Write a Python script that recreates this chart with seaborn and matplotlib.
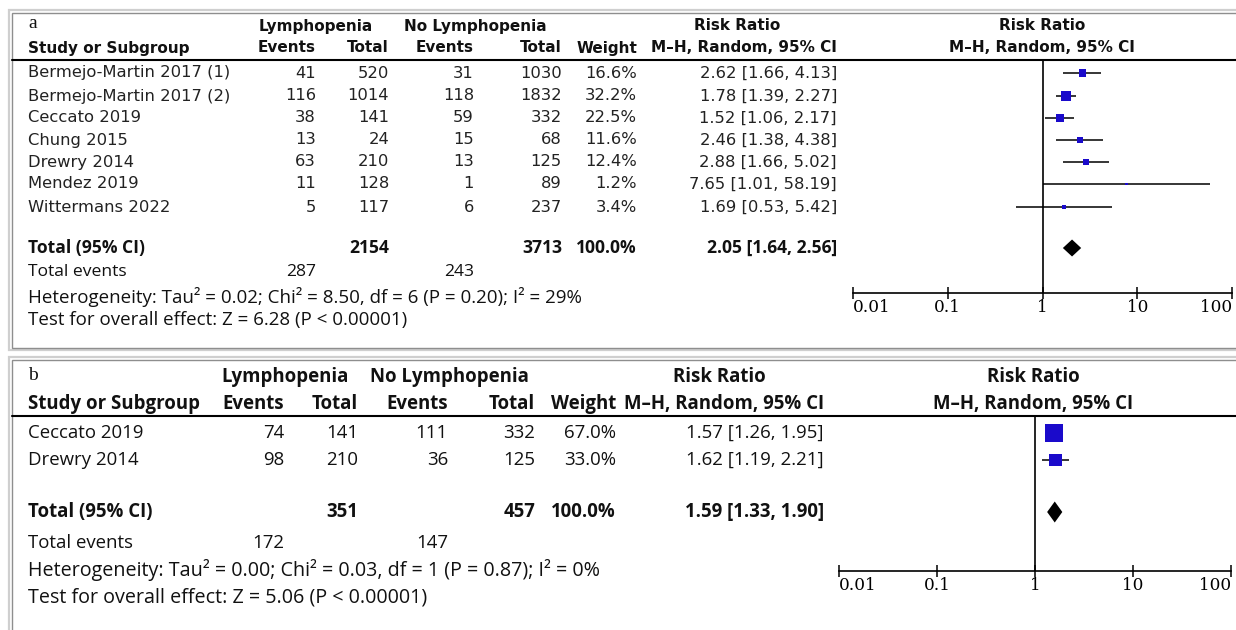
import matplotlib
matplotlib.use("Agg")
import matplotlib.pyplot as plt
import seaborn as sns
import numpy as np

# ---------------- data: panel a ----------------
studies_a = ["Bermejo-Martin 2017 (1)", "Bermejo-Martin 2017 (2)", "Ceccato 2019",
             "Chung 2015", "Drewry 2014", "Mendez 2019", "Wittermans 2022"]
lym_events_a = [41, 116, 38, 13, 63, 11, 5]
lym_total_a = [520, 1014, 141, 24, 210, 128, 117]
nolym_events_a = [31, 118, 59, 15, 13, 1, 6]
nolym_total_a = [1030, 1832, 332, 68, 125, 89, 237]
weight_a = [16.6, 32.2, 22.5, 11.6, 12.4, 1.2, 3.4]
rr_a = [2.62, 1.78, 1.52, 2.46, 2.88, 7.65, 1.69]
lo_a = [1.66, 1.39, 1.06, 1.38, 1.66, 1.01, 0.53]
hi_a = [4.13, 2.27, 2.17, 4.38, 5.02, 58.19, 5.42]
total_a = dict(lym=2154, nolym=3713, weight=100.0, rr=2.05, lo=1.64, hi=2.56,
               ev_lym=287, ev_nolym=243)
het_a = "Heterogeneity: Tau\u00b2 = 0.02; Chi\u00b2 = 8.50, df = 6 (P = 0.20); I\u00b2 = 29%"
test_a = "Test for overall effect: Z = 6.28 (P < 0.00001)"

# ---------------- data: panel b ----------------
studies_b = ["Ceccato 2019", "Drewry 2014"]
lym_events_b = [74, 98]
lym_total_b = [141, 210]
nolym_events_b = [111, 36]
nolym_total_b = [332, 125]
weight_b = [67.0, 33.0]
rr_b = [1.57, 1.62]
lo_b = [1.26, 1.19]
hi_b = [1.95, 2.21]
total_b = dict(lym=351, nolym=457, weight=100.0, rr=1.59, lo=1.33, hi=1.90,
               ev_lym=172, ev_nolym=147)
het_b = "Heterogeneity: Tau\u00b2 = 0.00; Chi\u00b2 = 0.03, df = 1 (P = 0.87); I\u00b2 = 0%"
test_b = "Test for overall effect: Z = 5.06 (P < 0.00001)"

axis_ticks = [0.01, 0.1, 1, 10, 100]
axis_labels = ["0.01", "0.1", "1", "10", "100"]

# ---------------- styling ----------------
sns.set_style("white")
plt.rcParams["font.family"] = ["DejaVu Sans"]
W, H = 1236, 630
SQ_BLUE = "#1a0acb"
LUC = "DejaVu Sans"      # table body (panel a)
MYR = "Open Sans"        # summary lines and panel b
SERIF = "Liberation Serif"
TICKF = "DejaVu Serif"

fig = plt.figure(figsize=(W / 100, H / 100), dpi=100)
bg = fig.add_axes([0, 0, 1, 1])
bg.set_xlim(0, W)
bg.set_ylim(H, 0)
bg.axis("off")


def txt(x, y, s, ha="left", size=11.8, bold=False, family=LUC, **kw):
    bg.text(x, y, s, ha=ha, va="center", fontsize=size,
            fontweight="bold" if bold else "normal", family=family,
            color=kw.pop("color", "#111111"), **kw)


def frame(top, bottom):
    # double grey border around a panel, open on the right
    bg.plot([1240, 9, 9, 1240], [top - 3, top - 3, bottom + 2, bottom + 2],
            color="#cfcfcf", lw=1.6, solid_joinstyle="miter")
    bg.plot([1240, 12, 12, 1240], [top, top, bottom, bottom],
            color="#8e8e8e", lw=1.0, solid_joinstyle="miter")


def fmt_rr(r, l, h):
    return f"{r:.2f} [{l:.2f}, {h:.2f}]"


def forest(x0, x1, y_top, y_axis, rows, rr, lo, hi, w, k, tot_row, tot, dia_h):
    ax = fig.add_axes([x0 / W, 1 - y_axis / H, (x1 - x0) / W, (y_axis - y_top) / H])
    ax.patch.set_alpha(0)
    ax.set_xscale("log")
    ax.set_xlim(0.01, 100)
    ax.set_ylim(y_axis, y_top)
    # confidence intervals
    ax.hlines(rows, lo, hi, color="black", lw=1.1, zorder=2)
    # study squares, area proportional to weight
    side_px = np.maximum(2.8, k * np.sqrt(np.array(w)))
    sizes = (side_px * 0.72) ** 2
    sns.scatterplot(x=rr, y=rows, s=sizes, marker="s", color=SQ_BLUE,
                    linewidth=0, ax=ax, zorder=3, legend=False)
    # pooled estimate diamond
    r, l, h = tot["rr"], tot["lo"], tot["hi"]
    ax.fill([l, r, h, r], [tot_row, tot_row - dia_h / 2, tot_row, tot_row + dia_h / 2],
            color="black", lw=0, zorder=3)
    # line of no effect
    ax.axvline(1, color="black", lw=1.2, zorder=1)
    for s in ["top", "right", "left"]:
        ax.spines[s].set_visible(False)
    ax.spines["bottom"].set_linewidth(1.2)
    ax.spines["bottom"].set_color("black")
    ax.set_xticks(axis_ticks)
    ax.set_xticklabels(axis_labels, family=TICKF, fontsize=12.2)
    ax.minorticks_off()
    ax.tick_params(axis="x", direction="inout", length=9, width=1.1, pad=0,
                   bottom=True, colors="black")
    labs = ax.get_xticklabels()
    labs[0].set_horizontalalignment("left")
    labs[-1].set_horizontalalignment("right")
    ax.set_yticks([])
    ax.set_xlabel("")
    ax.set_ylabel("")
    return ax


# ================= panel a =================
frame(13, 348)
cols_a = dict(ev1=316, tot1=389, ev2=474, tot2=562, wt=637, rr=837)
HA = 11.0     # bold header size
SA = 12.6     # summary line size
SN = 13.5     # statistics notes size
txt(28, 24, "a", family=SERIF, size=14)
txt(316, 26, "Lymphopenia", ha="center", bold=True, size=HA)
txt(475, 26, "No Lymphopenia", ha="center", bold=True, size=HA)
txt(737, 26, "Risk Ratio", ha="center", bold=True, size=HA)
txt(1042, 26, "Risk Ratio", ha="center", bold=True, size=HA)
y = 48
txt(28, y, "Study or Subgroup", bold=True, size=HA)
txt(cols_a["ev1"], y, "Events", ha="right", bold=True, size=HA)
txt(cols_a["tot1"], y, "Total", ha="right", bold=True, size=HA)
txt(cols_a["ev2"], y, "Events", ha="right", bold=True, size=HA)
txt(cols_a["tot2"], y, "Total", ha="right", bold=True, size=HA)
txt(cols_a["wt"], y, "Weight", ha="right", bold=True, size=HA)
txt(cols_a["rr"], y, "M\u2013H, Random, 95% CI", ha="right", bold=True, size=HA)
txt(1042, y, "M\u2013H, Random, 95% CI", ha="center", bold=True, size=HA)
bg.plot([12, 1240], [60, 60], color="black", lw=1.5)

rows_a = [73, 96, 118, 140, 162, 184, 207]
for i, yy in enumerate(rows_a):
    txt(28, yy, studies_a[i], color="#222222")
    txt(cols_a["ev1"], yy, str(lym_events_a[i]), ha="right", color="#222222")
    txt(cols_a["tot1"], yy, str(lym_total_a[i]), ha="right", color="#222222")
    txt(cols_a["ev2"], yy, str(nolym_events_a[i]), ha="right", color="#222222")
    txt(cols_a["tot2"], yy, str(nolym_total_a[i]), ha="right", color="#222222")
    txt(cols_a["wt"], yy, f"{weight_a[i]:.1f}%", ha="right", color="#222222")
    txt(cols_a["rr"], yy, fmt_rr(rr_a[i], lo_a[i], hi_a[i]), ha="right", color="#222222")

yt = 248
txt(28, yt, "Total (95% CI)", bold=True, family=MYR, size=SA)
txt(cols_a["tot1"], yt, str(total_a["lym"]), ha="right", bold=True, family=MYR, size=SA)
txt(cols_a["tot2"], yt, str(total_a["nolym"]), ha="right", bold=True, family=MYR, size=SA)
txt(cols_a["wt"], yt, f"{total_a['weight']:.1f}%", ha="right", bold=True, family=MYR, size=SA)
txt(cols_a["rr"], yt, fmt_rr(total_a["rr"], total_a["lo"], total_a["hi"]), ha="right",
    bold=True, family=MYR, size=SA)
txt(28, 272, "Total events", family=MYR, size=SA)
txt(cols_a["ev1"], 272, str(total_a["ev_lym"]), ha="right", family=MYR, size=SA)
txt(cols_a["ev2"], 272, str(total_a["ev_nolym"]), ha="right", family=MYR, size=SA)
txt(28, 297, het_a, family=MYR, size=SN)
txt(28, 320, test_a, family=MYR, size=SN)

forest(853, 1232, 60, 293, rows_a, rr_a, lo_a, hi_a, weight_a, 1.76, yt, total_a, 17)

# ================= panel b =================
frame(360, 640)
cols_b = dict(ev1=284, tot1=358, ev2=448, tot2=535, wt=616, rr=824)
FB = 13.4
FN = 14.2
txt(28, 376, "b", family=SERIF, size=14)
txt(285, 377, "Lymphopenia", ha="center", bold=True, family=MYR, size=FB)
txt(449, 377, "No Lymphopenia", ha="center", bold=True, family=MYR, size=FB)
txt(719, 377, "Risk Ratio", ha="center", bold=True, family=MYR, size=FB)
txt(1033, 377, "Risk Ratio", ha="center", bold=True, family=MYR, size=FB)
y = 404
txt(28, y, "Study or Subgroup", bold=True, family=MYR, size=FB)
txt(cols_b["ev1"], y, "Events", ha="right", bold=True, family=MYR, size=FB)
txt(cols_b["tot1"], y, "Total", ha="right", bold=True, family=MYR, size=FB)
txt(cols_b["ev2"], y, "Events", ha="right", bold=True, family=MYR, size=FB)
txt(cols_b["tot2"], y, "Total", ha="right", bold=True, family=MYR, size=FB)
txt(cols_b["wt"], y, "Weight", ha="right", bold=True, family=MYR, size=FB)
txt(cols_b["rr"], y, "M\u2013H, Random, 95% CI", ha="right", bold=True, family=MYR, size=FB)
txt(1033, y, "M\u2013H, Random, 95% CI", ha="center", bold=True, family=MYR, size=FB)
bg.plot([12, 1240], [416, 416], color="black", lw=1.5)

rows_b = [433, 460]
for i, yy in enumerate(rows_b):
    txt(28, yy, studies_b[i], family=MYR, size=FB)
    txt(cols_b["ev1"], yy, str(lym_events_b[i]), ha="right", family=MYR, size=FB)
    txt(cols_b["tot1"], yy, str(lym_total_b[i]), ha="right", family=MYR, size=FB)
    txt(cols_b["ev2"], yy, str(nolym_events_b[i]), ha="right", family=MYR, size=FB)
    txt(cols_b["tot2"], yy, str(nolym_total_b[i]), ha="right", family=MYR, size=FB)
    txt(cols_b["wt"], yy, f"{weight_b[i]:.1f}%", ha="right", family=MYR, size=FB)
    txt(cols_b["rr"], yy, fmt_rr(rr_b[i], lo_b[i], hi_b[i]), ha="right", family=MYR, size=FB)

yt = 512
txt(28, yt, "Total (95% CI)", bold=True, family=MYR, size=FB)
txt(cols_b["tot1"], yt, str(total_b["lym"]), ha="right", bold=True, family=MYR, size=FB)
txt(cols_b["tot2"], yt, str(total_b["nolym"]), ha="right", bold=True, family=MYR, size=FB)
txt(cols_b["wt"], yt, f"{total_b['weight']:.1f}%", ha="right", bold=True, family=MYR, size=FB)
txt(cols_b["rr"], yt, fmt_rr(total_b["rr"], total_b["lo"], total_b["hi"]), ha="right",
    bold=True, family=MYR, size=FB)
txt(28, 543, "Total events", family=MYR, size=FB)
txt(cols_b["ev1"], 543, str(total_b["ev_lym"]), ha="right", family=MYR, size=FB)
txt(cols_b["ev2"], 543, str(total_b["ev_nolym"]), ha="right", family=MYR, size=FB)
txt(28, 570, het_b, family=MYR, size=FN)
txt(28, 597, test_b, family=MYR, size=FN)

forest(839, 1231, 416, 571, rows_b, rr_b, lo_b, hi_b, weight_b, 2.25, yt, total_b, 21)

fig.savefig("out.png", dpi=100)
